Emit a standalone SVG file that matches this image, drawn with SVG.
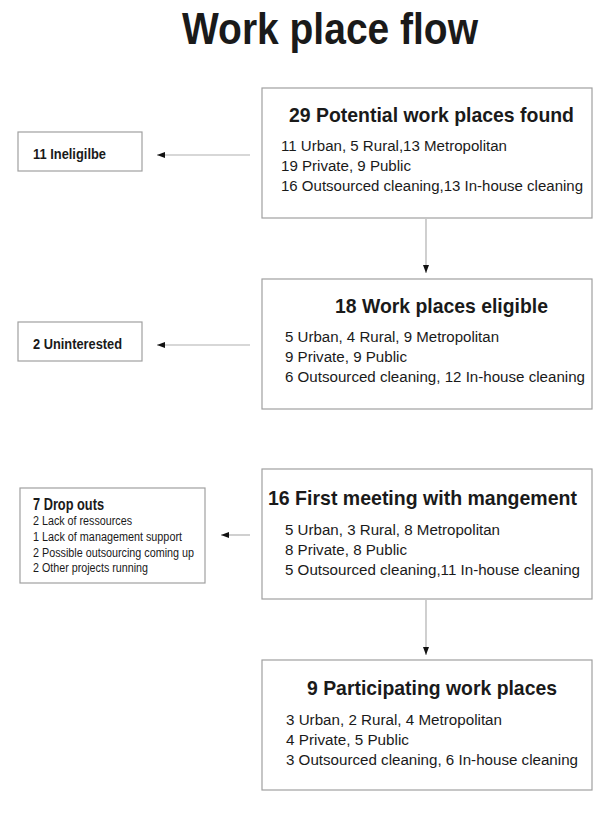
<svg xmlns="http://www.w3.org/2000/svg" width="600" height="821" viewBox="0 0 600 821">
<defs>
<marker id="ah" markerWidth="8" markerHeight="6" refX="8" refY="3" orient="auto" markerUnits="userSpaceOnUse">
<path d="M0,0 L8,3 L0,6 Z" fill="#111"/>
</marker>
<style>
.box{fill:#fff;stroke:#a0a0a0;stroke-width:1.2}
.t{font-family:"Liberation Sans",Arial,sans-serif;fill:#1a1a1a}
.h{font-weight:bold;font-size:21px}
.b{font-size:15.5px}
.sh{font-weight:bold;font-size:14px}
.s{font-size:12px}
.c{stroke:#b0b0b0;stroke-width:1.2;fill:none;marker-end:url(#ah)}
</style>
</defs>
<rect width="600" height="821" fill="#fff"/>
<text class="t" x="182" y="44" font-weight="bold" font-size="45" textLength="296" lengthAdjust="spacingAndGlyphs">Work place flow</text>

<g id="connectors">
<line class="c" x1="250" y1="155" x2="157" y2="155"/>
<line class="c" x1="250" y1="345" x2="157" y2="345"/>
<line class="c" x1="250" y1="535" x2="221" y2="535"/>
<line class="c" x1="426" y1="219" x2="426" y2="273"/>
<line class="c" x1="426" y1="600" x2="426" y2="655"/>
</g>

<g id="n1">
<rect class="box" x="262" y="88" width="330" height="130"/>
<text class="t h" x="289" y="122" textLength="285" lengthAdjust="spacingAndGlyphs">29 Potential work places found</text>
<text class="t b" x="281" y="151" textLength="226" lengthAdjust="spacingAndGlyphs">11 Urban, 5 Rural,13 Metropolitan</text>
<text class="t b" x="281" y="171" textLength="130" lengthAdjust="spacingAndGlyphs">19 Private, 9 Public</text>
<text class="t b" x="281" y="191" textLength="302" lengthAdjust="spacingAndGlyphs">16 Outsourced cleaning,13 In-house cleaning</text>
</g>

<g id="n2">
<rect class="box" x="262" y="279" width="330" height="130"/>
<text class="t h" x="335" y="313" textLength="213" lengthAdjust="spacingAndGlyphs">18 Work places eligible</text>
<text class="t b" x="285" y="342" textLength="214" lengthAdjust="spacingAndGlyphs">5 Urban, 4 Rural, 9 Metropolitan</text>
<text class="t b" x="285" y="362" textLength="122" lengthAdjust="spacingAndGlyphs">9 Private, 9 Public</text>
<text class="t b" x="285" y="382" textLength="300" lengthAdjust="spacingAndGlyphs">6 Outsourced cleaning, 12 In-house cleaning</text>
</g>

<g id="n3">
<rect class="box" x="262" y="469" width="330" height="130"/>
<text class="t h" x="268" y="505" textLength="309" lengthAdjust="spacingAndGlyphs">16 First meeting with mangement</text>
<text class="t b" x="285" y="535" textLength="215" lengthAdjust="spacingAndGlyphs">5 Urban, 3 Rural, 8 Metropolitan</text>
<text class="t b" x="285" y="555" textLength="122" lengthAdjust="spacingAndGlyphs">8 Private, 8 Public</text>
<text class="t b" x="285" y="575" textLength="295" lengthAdjust="spacingAndGlyphs">5 Outsourced cleaning,11 In-house cleaning</text>
</g>

<g id="n4">
<rect class="box" x="262" y="660" width="330" height="130"/>
<text class="t h" x="307" y="695" textLength="250" lengthAdjust="spacingAndGlyphs">9 Participating work places</text>
<text class="t b" x="286" y="725" textLength="216" lengthAdjust="spacingAndGlyphs">3 Urban, 2 Rural, 4 Metropolitan</text>
<text class="t b" x="286" y="745" textLength="123" lengthAdjust="spacingAndGlyphs">4 Private, 5 Public</text>
<text class="t b" x="286" y="765" textLength="292" lengthAdjust="spacingAndGlyphs">3 Outsourced cleaning, 6 In-house cleaning</text>
</g>

<g id="l1">
<rect class="box" x="18" y="132" width="124" height="39"/>
<text class="t sh" x="33" y="159" textLength="73" lengthAdjust="spacingAndGlyphs">11 Ineligilbe</text>
</g>

<g id="l2">
<rect class="box" x="18" y="322" width="124" height="39"/>
<text class="t sh" x="33" y="349" textLength="89" lengthAdjust="spacingAndGlyphs">2 Uninterested</text>
</g>

<g id="l3">
<rect class="box" x="20" y="488" width="185" height="95"/>
<text class="t" x="33" y="510" font-weight="bold" font-size="16" textLength="71" lengthAdjust="spacingAndGlyphs">7 Drop outs</text>
<text class="t s" x="33" y="525" textLength="99" lengthAdjust="spacingAndGlyphs">2 Lack of ressources</text>
<text class="t s" x="33" y="541" textLength="149" lengthAdjust="spacingAndGlyphs">1 Lack of management support</text>
<text class="t s" x="33" y="557" textLength="161" lengthAdjust="spacingAndGlyphs">2 Possible outsourcing coming up</text>
<text class="t s" x="33" y="572" textLength="115" lengthAdjust="spacingAndGlyphs">2 Other projects running</text>
</g>
</svg>
